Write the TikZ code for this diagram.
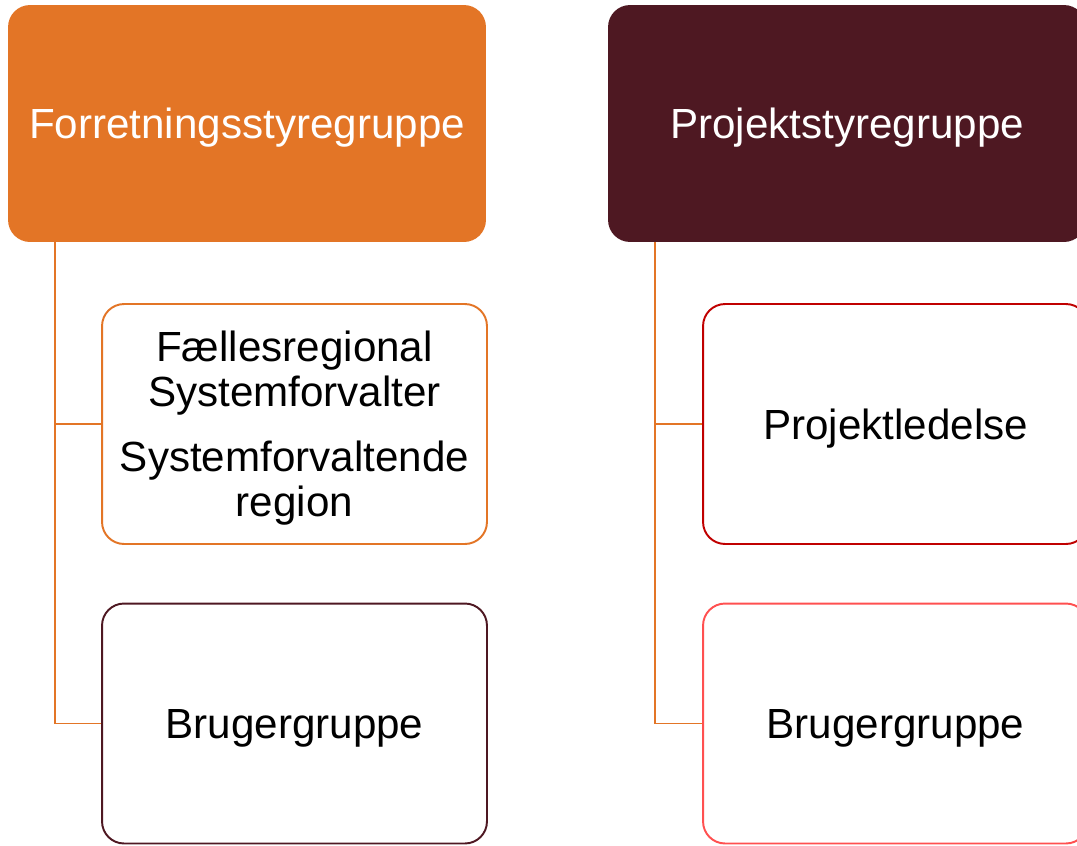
\documentclass[tikz,border=0pt]{standalone}
\usepackage{fontspec}
\setmainfont{Liberation Sans}
\usepackage{tikz}
\usetikzlibrary{positioning, calc}
\definecolor{fOrange}{HTML}{E37526}
\definecolor{pMaroon}{HTML}{4E1822}
\definecolor{pRed}{HTML}{C00000}
\definecolor{pLight}{HTML}{FF5050}
\tikzstyle{head} = [rectangle, rounded corners=0.44cm, minimum width=9.56cm, minimum height=4.74cm, text=white, inner sep=0pt, text depth=0pt, font=\fontsize{24}{25.6}\selectfont]
\tikzstyle{unit} = [rectangle, rounded corners=0.44cm, minimum width=7.7cm, minimum height=4.8cm, fill=white, line width=1.1pt, text=black, align=center, inner sep=0pt, text depth=0pt, font=\fontsize{24}{25.6}\selectfont]
\tikzstyle{line} = [draw=fOrange, line width=1.1pt]

\begin{document}
\begin{tikzpicture}[x=0.02cm,y=-0.02cm]
    \useasboundingbox (0,0) rectangle (1077,845);
    \clip (0,0) rectangle (1077,845);
    % left column
    \node[head, fill=fOrange] (fgr) at (247,123.5) {Forretningsstyregruppe};
    \node[unit, draw=fOrange] (fsv) at (294.5,424) {Fællesregional\\Systemforvalter\\[11.4pt]Systemforvaltende\\region};
    \node[unit, draw=pMaroon] (fbg) at (294.5,723.5) {Brugergruppe};
    % right column
    \node[head, fill=pMaroon] (pgr) at (847,123.5) {Projektstyregruppe};
    \node[unit, draw=pRed] (pld) at (895.5,424) {Projektledelse};
    \node[unit, draw=pLight] (pbg) at (895.5,723.5) {Brugergruppe};
    % connectors
    \draw[line] ([xshift=0.94cm]fgr.south west) |- (fsv.west);
    \draw[line] ([xshift=0.94cm]fgr.south west) |- (fbg.west);
    \draw[line] ([xshift=0.94cm]pgr.south west) |- (pld.west);
    \draw[line] ([xshift=0.94cm]pgr.south west) |- (pbg.west);
\end{tikzpicture}
\end{document}
